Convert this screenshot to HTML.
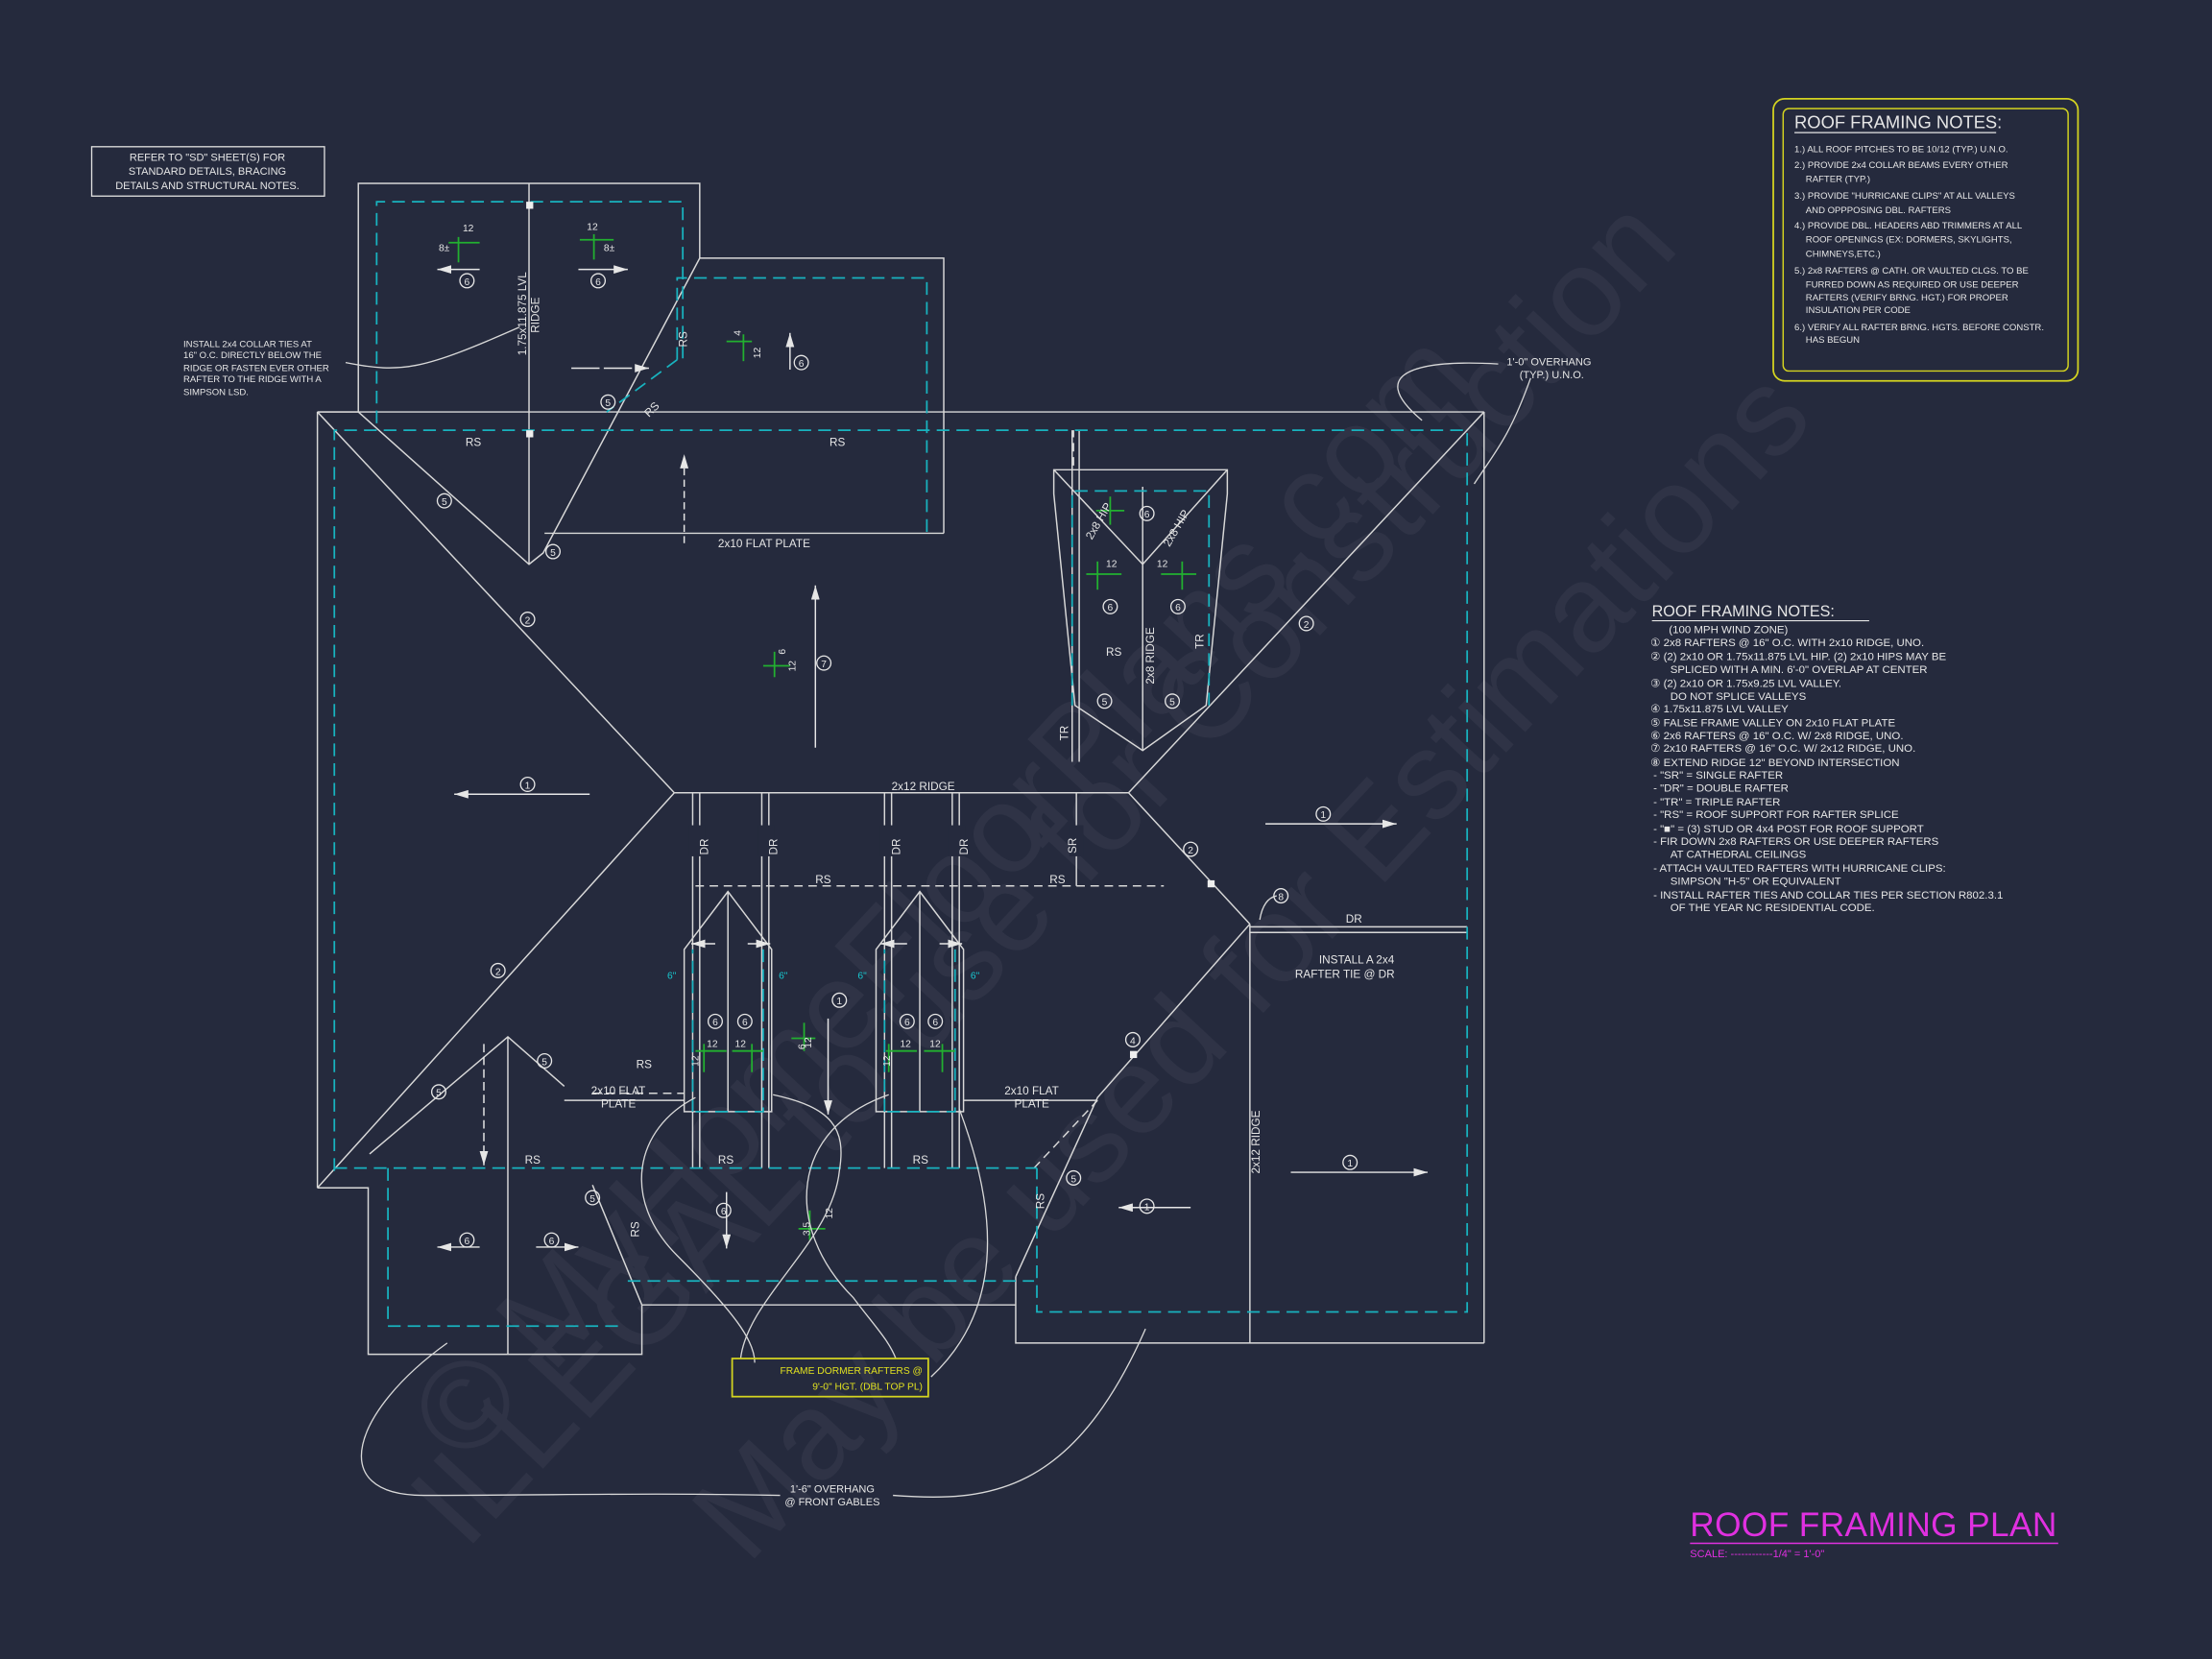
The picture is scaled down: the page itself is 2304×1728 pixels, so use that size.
<!DOCTYPE html>
<html><head><meta charset="utf-8"><style>
html,body{margin:0;padding:0;background:#252a3d;}
svg{display:block}
text{font-family:"Liberation Sans",sans-serif;fill:#e6e6e6;}
</style></head><body>
<svg width="2304" height="1728" viewBox="0 0 1568 1176" xmlns="http://www.w3.org/2000/svg">
<rect width="1568" height="1176" fill="#252a3d"/>
<defs>
<marker id="ar" viewBox="0 0 10 6" refX="10" refY="3" markerWidth="10" markerHeight="6" orient="auto" markerUnits="userSpaceOnUse"><path d="M0,0 L10,3 L0,6 z" fill="#e6e6e6"/></marker>
</defs>

<!-- watermark -->
<g opacity="0.045" font-family="Liberation Serif" font-size="88">
<text x="330" y="1040" transform="rotate(-47 330 1040)" style="fill:#fff">© MyHomeFloorPlans.com</text>
<text x="330" y="1100" transform="rotate(-47 330 1100)" style="fill:#fff">ILLEGAL to use for Construction</text>
<text x="530" y="1110" transform="rotate(-47 530 1110)" style="fill:#fff">May be used for Estimations</text>
</g>

<g stroke="#d8d8d8" stroke-width="1" fill="none">
<polyline points="225,292 254,292 254,130 496,130 496,183 669,183 669,292"/>
<line x1="375" y1="130" x2="375" y2="400"/>
<polyline points="496,183 385,392 375,400 254,292"/>
<line x1="386" y1="378" x2="669" y2="378"/>
<line x1="669" y1="292" x2="669" y2="378"/>
<line x1="225" y1="292" x2="1052" y2="292"/>
<line x1="225" y1="292" x2="225" y2="842"/>
<line x1="1052" y1="292" x2="1052" y2="952"/>
<line x1="225" y1="292" x2="478" y2="562"/>
<line x1="1052" y1="292" x2="800" y2="562"/>
<line x1="478" y1="562" x2="800" y2="562"/>
<line x1="478" y1="562" x2="225" y2="842"/>
<line x1="800" y1="562" x2="886" y2="655"/>
<polyline points="886,655 778,778 720,905"/>
<line x1="886" y1="655" x2="886" y2="952"/>
<line x1="886" y1="657" x2="1040" y2="657"/>
<line x1="886" y1="661" x2="1040" y2="661"/>
<polyline points="1052,952 720,952 720,905"/>
<line x1="455" y1="925" x2="720" y2="925"/>
<polyline points="225,842 261,842 261,960 455,960 455,925 420,840"/>
<polyline points="262,818 360,735 400,770"/>
<line x1="360" y1="735" x2="360" y2="960"/>
<line x1="400" y1="780" x2="485" y2="780"/>
<line x1="683" y1="780" x2="778" y2="780"/>
<polygon points="747,333 870,333 870,350 855,500 810,532 762,500 747,350"/>
<line x1="810" y1="345" x2="810" y2="532"/>
<line x1="760" y1="305" x2="760" y2="540"/>
<line x1="765" y1="305" x2="765" y2="540"/>
<line x1="747" y1="333" x2="810" y2="400"/>
<line x1="870" y1="333" x2="810" y2="400"/>
<g>
<line x1="491" y1="562" x2="491" y2="828"/><line x1="496" y1="562" x2="496" y2="828"/>
<line x1="540" y1="562" x2="540" y2="828"/><line x1="545" y1="562" x2="545" y2="828"/>
<line x1="627" y1="562" x2="627" y2="828"/><line x1="632" y1="562" x2="632" y2="828"/>
<line x1="675" y1="562" x2="675" y2="828"/><line x1="680" y1="562" x2="680" y2="828"/>
<line x1="763" y1="562" x2="763" y2="628"/>
</g>
<polygon points="485,673 516,632 547,673 547,788 485,788"/>
<line x1="516" y1="632" x2="516" y2="788"/>
<polygon points="621,673 652,632 683,673 683,788 621,788"/>
<line x1="652" y1="632" x2="652" y2="788"/>
</g>
<g fill="#252a3d">
<rect x="488" y="585" width="12" height="22"/><rect x="537" y="585" width="12" height="22"/>
<rect x="624" y="585" width="12" height="22"/><rect x="672" y="585" width="12" height="22"/>
<rect x="758" y="585" width="10" height="22"/>
</g>

<g stroke="#d8d8d8" stroke-width="1" fill="none" stroke-dasharray="6,4">
<line x1="493" y1="628" x2="825" y2="628"/>
<line x1="420" y1="775" x2="485" y2="775"/>
<line x1="761" y1="330" x2="761" y2="305"/>
<line x1="733" y1="828" x2="778" y2="780"/>
</g>

<g stroke="#18b3bf" stroke-width="1.2" fill="none" stroke-dasharray="9,5">
<polyline points="267,300 267,143 484,143 484,255"/>
<polyline points="480,255 480,197 657,197 657,378"/>
<line x1="480" y1="255" x2="430" y2="292"/>
<polyline points="237,830 237,305 1040,305 1040,930 735,930 735,828"/>
<line x1="237" y1="828" x2="735" y2="828"/>
<polyline points="275,828 275,940 443,940"/>
<line x1="445" y1="908" x2="733" y2="908"/>
<polyline points="760,500 760,348 857,348 857,500"/>
<polyline points="491,788 491,673"/><polyline points="541,673 541,788 491,788"/>
<polyline points="627,788 627,673"/><polyline points="677,673 677,788 627,788"/>
</g>

<g fill="#eee">
<rect x="373" y="143" width="5" height="5"/><rect x="373" y="305" width="5" height="5"/>
<rect x="856" y="624" width="5" height="5"/><rect x="801" y="745" width="5" height="5"/>
</g>

<g stroke="#22b030" stroke-width="1.2">
<line x1="325" y1="168" x2="325" y2="186"/><line x1="318" y1="172" x2="340" y2="172"/>
<line x1="421" y1="166" x2="421" y2="184"/><line x1="411" y1="170" x2="435" y2="170"/>
<line x1="527" y1="237" x2="527" y2="256"/><line x1="515" y1="242" x2="533" y2="242"/>
<line x1="549" y1="462" x2="549" y2="480"/><line x1="541" y1="472" x2="560" y2="472"/>
<line x1="787" y1="352" x2="787" y2="372"/><line x1="777" y1="362" x2="797" y2="362"/>
<line x1="778" y1="398" x2="778" y2="418"/><line x1="770" y1="407" x2="795" y2="407"/>
<line x1="838" y1="398" x2="838" y2="418"/><line x1="823" y1="407" x2="848" y2="407"/>
<line x1="570" y1="725" x2="570" y2="745"/><line x1="561" y1="736" x2="578" y2="736"/>
<line x1="574" y1="858" x2="574" y2="879"/><line x1="566" y1="871" x2="585" y2="871"/>
<line x1="499" y1="740" x2="499" y2="760"/><line x1="493" y1="745" x2="515" y2="745"/>
<line x1="533" y1="740" x2="533" y2="760"/><line x1="519" y1="745" x2="541" y2="745"/>
<line x1="630" y1="740" x2="630" y2="760"/><line x1="628" y1="745" x2="650" y2="745"/>
<line x1="668" y1="740" x2="668" y2="760"/><line x1="655" y1="745" x2="677" y2="745"/>
</g>

<g stroke="#e6e6e6" stroke-width="1" marker-end="url(#ar)">
<line x1="340" y1="191" x2="310" y2="191"/><line x1="410" y1="191" x2="445" y2="191"/>
<line x1="560" y1="262" x2="560" y2="236"/>
<line x1="405" y1="261" x2="460" y2="261" stroke-dasharray="20,3"/>
<line x1="578" y1="530" x2="578" y2="415"/>
<line x1="485" y1="385" x2="485" y2="322" stroke-dasharray="5,3"/>
<line x1="418" y1="563" x2="322" y2="563"/>
<line x1="897" y1="584" x2="990" y2="584"/>
<line x1="587" y1="722" x2="587" y2="790"/>
<line x1="515" y1="845" x2="515" y2="885"/>
<line x1="844" y1="856" x2="793" y2="856"/>
<line x1="915" y1="831" x2="1012" y2="831"/>
<line x1="340" y1="884" x2="310" y2="884"/><line x1="380" y1="884" x2="410" y2="884"/>
<line x1="343" y1="740" x2="343" y2="826" stroke-dasharray="6,3"/>
<line x1="507" y1="669" x2="490" y2="669"/><line x1="530" y1="669" x2="546" y2="669"/>
<line x1="643" y1="669" x2="624" y2="669"/><line x1="666" y1="669" x2="682" y2="669"/>
</g>

<g fill="none" stroke="#e6e6e6" stroke-width="0.9">
<circle cx="331" cy="199" r="5"/><circle cx="424" cy="199" r="5"/><circle cx="568" cy="257" r="5"/>
<circle cx="431" cy="285" r="5"/><circle cx="392" cy="391" r="5"/><circle cx="315" cy="355" r="5"/>
<circle cx="374" cy="439" r="5"/><circle cx="584" cy="470" r="5"/><circle cx="374" cy="556" r="5"/>
<circle cx="938" cy="577" r="5"/><circle cx="844" cy="602" r="5"/><circle cx="908" cy="635" r="5"/>
<circle cx="926" cy="442" r="5"/><circle cx="353" cy="688" r="5"/><circle cx="595" cy="709" r="5"/>
<circle cx="803" cy="737" r="5"/><circle cx="311" cy="774" r="5"/><circle cx="386" cy="752" r="5"/>
<circle cx="761" cy="835" r="5"/><circle cx="420" cy="849" r="5"/><circle cx="513" cy="858" r="5"/>
<circle cx="813" cy="855" r="5"/><circle cx="957" cy="824" r="5"/><circle cx="331" cy="879" r="5"/>
<circle cx="391" cy="879" r="5"/><circle cx="507" cy="724" r="5"/><circle cx="528" cy="724" r="5"/>
<circle cx="643" cy="724" r="5"/><circle cx="663" cy="724" r="5"/><circle cx="813" cy="364" r="5"/>
<circle cx="787" cy="430" r="5"/><circle cx="835" cy="430" r="5"/><circle cx="783" cy="497" r="5"/>
<circle cx="831" cy="497" r="5"/>
</g>
<g font-size="7" text-anchor="middle">
<text x="331" y="202">6</text><text x="424" y="202">6</text><text x="568" y="260">6</text>
<text x="431" y="288">5</text><text x="392" y="394">5</text><text x="315" y="358">5</text>
<text x="374" y="442">2</text><text x="584" y="473">7</text><text x="374" y="559">1</text>
<text x="938" y="580">1</text><text x="844" y="605">2</text><text x="908" y="638">8</text>
<text x="926" y="445">2</text><text x="353" y="691">2</text><text x="595" y="712">1</text>
<text x="803" y="740">4</text><text x="311" y="777">5</text><text x="386" y="755">5</text>
<text x="761" y="838">5</text><text x="420" y="852">5</text><text x="513" y="861">6</text>
<text x="813" y="858">1</text><text x="957" y="827">1</text><text x="331" y="882">6</text>
<text x="391" y="882">6</text><text x="507" y="727">6</text><text x="528" y="727">6</text>
<text x="643" y="727">6</text><text x="663" y="727">6</text><text x="813" y="367">6</text>
<text x="787" y="433">6</text><text x="835" y="433">6</text><text x="783" y="500">5</text>
<text x="831" y="500">5</text>
</g>

<g font-size="8">
<text x="330" y="316">RS</text><text x="588" y="316">RS</text>
<text x="509" y="388">2x10 FLAT PLATE</text>
<text x="632" y="560">2x12 RIDGE</text>
<text x="578" y="626">RS</text><text x="744" y="626">RS</text>
<text x="451" y="757">RS</text><text x="372" y="825">RS</text>
<text x="509" y="825">RS</text><text x="647" y="825">RS</text>
<text x="419" y="776">2x10 FLAT</text><text x="426" y="785">PLATE</text>
<text x="712" y="776">2x10 FLAT</text><text x="719" y="785">PLATE</text>
<text x="954" y="654">DR</text>
<text x="935" y="683">INSTALL A 2x4</text><text x="918" y="693">RAFTER TIE @ DR</text>
<text x="784" y="465">RS</text>
<text x="328" y="164" font-size="7">12</text><text x="311" y="178" font-size="7">8±</text>
<text x="416" y="163" font-size="7">12</text><text x="428" y="178" font-size="7">8±</text>
<text x="784" y="402" font-size="7">12</text><text x="820" y="402" font-size="7">12</text>
<text x="501" y="742" font-size="7">12</text><text x="521" y="742" font-size="7">12</text>
<text x="638" y="742" font-size="7">12</text><text x="659" y="742" font-size="7">12</text>
</g>
<g font-size="8">
<text transform="translate(373,252) rotate(-90)">1.75x11.875 LVL</text>
<text transform="translate(382,236) rotate(-90)">RIDGE</text>
<text transform="translate(487,246) rotate(-90)">RS</text>
<text transform="translate(460,296) rotate(-45)">RS</text>
<text transform="translate(502,606) rotate(-90)">DR</text>
<text transform="translate(551,606) rotate(-90)">DR</text>
<text transform="translate(638,606) rotate(-90)">DR</text>
<text transform="translate(686,606) rotate(-90)">DR</text>
<text transform="translate(763,605) rotate(-90)">SR</text>
<text transform="translate(757,525) rotate(-90)">TR</text>
<text transform="translate(853,460) rotate(-90)">TR</text>
<text transform="translate(818,485) rotate(-90)">2x8 RIDGE</text>
<text transform="translate(774,383) rotate(-60)">2x8 HIP</text>
<text transform="translate(829,388) rotate(-60)">2x8 HIP</text>
<text transform="translate(893,832) rotate(-90)">2x12 RIDGE</text>
<text transform="translate(453,877) rotate(-90)">RS</text>
<text transform="translate(740,857) rotate(-90)">RS</text>
<text transform="translate(539,254) rotate(-90)" font-size="7">12</text>
<text transform="translate(525,238) rotate(-90)" font-size="7">4</text>
<text transform="translate(564,476) rotate(-90)" font-size="7">12</text>
<text transform="translate(552,460) rotate(90)" font-size="7">9</text>
<text transform="translate(575,743) rotate(-90)" font-size="7">12</text>
<text transform="translate(566,740) rotate(90)" font-size="7">9</text>
<text transform="translate(590,864) rotate(-90)" font-size="7">12</text>
<text transform="translate(574,876) rotate(-90)" font-size="7">3.5</text>
<text transform="translate(495,756) rotate(-90)" font-size="7">12</text>
<text transform="translate(631,756) rotate(-90)" font-size="7">12</text>
</g>
<g font-size="7">
<text x="473" y="694" style="fill:#18c8d0">6"</text><text x="552" y="694" style="fill:#18c8d0">6"</text>
<text x="608" y="694" style="fill:#18c8d0">6"</text><text x="688" y="694" style="fill:#18c8d0">6"</text>
</g>

<g stroke="#d8d8d8" stroke-width="0.9" fill="none">
<path d="M245,257 C285,265 300,262 368,232"/>
<path d="M1062,258 C1010,255 965,262 1008,298"/>
<path d="M1045,343 C1060,320 1070,310 1085,268"/>
<path d="M317,952 C250,1000 230,1060 300,1060 C400,1060 450,1058 553,1060"/>
<path d="M633,1060 C700,1065 760,1060 812,942"/>
<path d="M493,778 C450,800 440,850 480,890 C520,930 535,950 535,966"/>
<path d="M548,776 C590,785 600,800 595,830 C590,880 530,920 525,963"/>
<path d="M630,776 C560,800 555,870 605,920 C620,940 630,950 635,963"/>
<path d="M680,786 C700,840 720,920 660,976"/>
<path d="M893,652 C895,640 900,636 905,635"/>
</g>

<rect x="65" y="104" width="165" height="35" fill="none" stroke="#e0e0e0" stroke-width="0.9"/>
<g font-size="7.5" text-anchor="middle">
<text x="147" y="114">REFER TO "SD" SHEET(S) FOR</text>
<text x="147" y="124">STANDARD DETAILS, BRACING</text>
<text x="147" y="134">DETAILS AND STRUCTURAL NOTES.</text>
</g>
<g font-size="6.5">
<text x="130" y="246">INSTALL 2x4 COLLAR TIES AT</text>
<text x="130" y="254">16" O.C. DIRECTLY BELOW THE</text>
<text x="130" y="263">RIDGE OR FASTEN EVER OTHER</text>
<text x="130" y="271">RAFTER TO THE RIDGE WITH A</text>
<text x="130" y="280">SIMPSON LSD.</text>
</g>
<g font-size="7.5" text-anchor="middle">
<text x="1098" y="259">1'-0" OVERHANG</text><text x="1100" y="268">(TYP.) U.N.O.</text>
<text x="590" y="1058">1'-6" OVERHANG</text><text x="590" y="1067">@ FRONT GABLES</text>
</g>

<rect x="1257" y="70" width="216" height="200" rx="8" fill="none" stroke="#d4d420" stroke-width="1.2"/>
<rect x="1264" y="77" width="202" height="186" rx="4" fill="none" stroke="#d4d420" stroke-width="1"/>
<text x="1272" y="91" font-size="12.5">ROOF FRAMING NOTES:</text>
<line x1="1272" y1="94" x2="1415" y2="94" stroke="#e6e6e6" stroke-width="0.8"/>
<g font-size="6.5">
<text x="1272" y="108">1.) ALL ROOF PITCHES TO BE  10/12 (TYP.) U.N.O.</text>
<text x="1272" y="119">2.) PROVIDE 2x4 COLLAR BEAMS EVERY OTHER</text>
<text x="1280" y="129">RAFTER (TYP.)</text>
<text x="1272" y="141">3.) PROVIDE "HURRICANE CLIPS" AT ALL VALLEYS</text>
<text x="1280" y="151">AND OPPPOSING DBL. RAFTERS</text>
<text x="1272" y="162">4.) PROVIDE DBL. HEADERS ABD TRIMMERS AT ALL</text>
<text x="1280" y="172">ROOF OPENINGS (EX: DORMERS, SKYLIGHTS,</text>
<text x="1280" y="182">CHIMNEYS,ETC.)</text>
<text x="1272" y="194">5.) 2x8 RAFTERS @ CATH. OR VAULTED CLGS. TO BE</text>
<text x="1280" y="204">FURRED DOWN AS REQUIRED OR USE DEEPER</text>
<text x="1280" y="213">RAFTERS (VERIFY BRNG. HGT.) FOR PROPER</text>
<text x="1280" y="222">INSULATION PER CODE</text>
<text x="1272" y="234">6.) VERIFY ALL RAFTER BRNG. HGTS. BEFORE CONSTR.</text>
<text x="1280" y="243">HAS BEGUN</text>
</g>

<text x="1171" y="437" font-size="11">ROOF FRAMING NOTES:</text>
<line x1="1171" y1="440" x2="1325" y2="440" stroke="#e6e6e6" stroke-width="0.8"/>
<g font-size="7.8">
<text x="1183" y="449">(100 MPH WIND ZONE)</text>
<text x="1170" y="458">①  2x8 RAFTERS @ 16" O.C. WITH 2x10 RIDGE, UNO.</text>
<text x="1170" y="468">②  (2) 2x10 OR 1.75x11.875 LVL HIP. (2) 2x10 HIPS MAY BE</text>
<text x="1184" y="477">SPLICED WITH A MIN. 6'-0" OVERLAP AT CENTER</text>
<text x="1170" y="487">③  (2) 2x10 OR 1.75x9.25 LVL VALLEY.</text>
<text x="1184" y="496">DO NOT SPLICE VALLEYS</text>
<text x="1170" y="505">④  1.75x11.875 LVL VALLEY</text>
<text x="1170" y="515">⑤  FALSE FRAME VALLEY ON 2x10 FLAT PLATE</text>
<text x="1170" y="524">⑥  2x6 RAFTERS @ 16" O.C. W/ 2x8 RIDGE, UNO.</text>
<text x="1170" y="533">⑦  2x10 RAFTERS @ 16" O.C. W/ 2x12 RIDGE, UNO.</text>
<text x="1170" y="543">⑧  EXTEND RIDGE 12" BEYOND INTERSECTION</text>
<text x="1172" y="552">-   "SR" = SINGLE RAFTER</text>
<text x="1172" y="561">-   "DR" = DOUBLE RAFTER</text>
<text x="1172" y="571">-   "TR" = TRIPLE RAFTER</text>
<text x="1172" y="580">-   "RS" = ROOF SUPPORT FOR RAFTER SPLICE</text>
<text x="1172" y="590">-   "■"  = (3) STUD OR 4x4 POST FOR ROOF SUPPORT</text>
<text x="1172" y="599">-   FIR DOWN 2x8 RAFTERS OR USE DEEPER RAFTERS</text>
<text x="1184" y="608">AT CATHEDRAL CEILINGS</text>
<text x="1172" y="618">-   ATTACH VAULTED RAFTERS WITH HURRICANE CLIPS:</text>
<text x="1184" y="627">SIMPSON "H-5" OR EQUIVALENT</text>
<text x="1172" y="637">-   INSTALL RAFTER TIES AND COLLAR TIES PER SECTION R802.3.1</text>
<text x="1184" y="646">OF THE YEAR NC RESIDENTIAL CODE.</text>
</g>

<rect x="519" y="963" width="139" height="27" fill="none" stroke="#d4d420" stroke-width="1.2"/>
<g font-size="7" text-anchor="end">
<text x="654" y="974" style="fill:#e0e020">FRAME DORMER RAFTERS @</text>
<text x="654" y="985" style="fill:#e0e020">9'-0" HGT. (DBL TOP PL)</text>
</g>

<text x="1198" y="1089" font-size="24" style="fill:#e030e0" textLength="260">ROOF FRAMING PLAN</text>
<line x1="1198" y1="1094" x2="1459" y2="1094" stroke="#e030e0" stroke-width="1"/>
<text x="1198" y="1104" font-size="7.5" style="fill:#e030e0">SCALE: ------------1/4" = 1'-0"</text>
</svg>
</body></html>
